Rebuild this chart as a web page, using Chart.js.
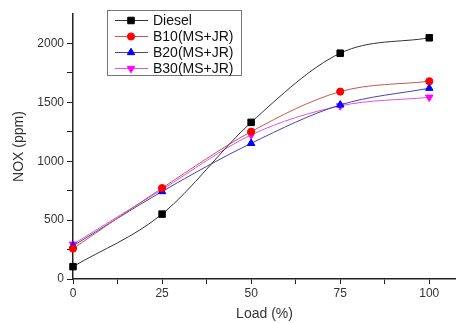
<!DOCTYPE html>
<html><head><meta charset="utf-8">
<script src="https://cdn.jsdelivr.net/npm/chart.js@4/dist/chart.umd.min.js"></script>
<style>html,body{margin:0;padding:0;background:#fff}#wrap{width:456px;height:323px}</style>
</head><body><div id="wrap"><canvas id="c" width="456" height="323"></canvas></div>
<script>
const loads = [0, 25, 50, 75, 100];
const diesel = [105, 551, 1330, 1917, 2048];
const b10 = [258, 772, 1251, 1591, 1679];
const b20 = [281, 743, 1152, 1478, 1620];
const b30 = [295, 760, 1223, 1470, 1543];
const seriesNames = ['Diesel', 'B10(MS+JR)', 'B20(MS+JR)', 'B30(MS+JR)'];
const xTicks = [0, 12.5, 25, 37.5, 50, 62.5, 75, 87.5, 100];
const yTicks = [0, 250, 500, 750, 1000, 1250, 1500, 1750, 2000];
const xTitle = 'Load (%)';
const yTitle = 'NOX (ppm)';

const styles = [
  {line:'#333333', fill:'#000000', shape:'rect', r:4.6, rot:0},
  {line:'#cc5555', fill:'#ff0000', shape:'circle', r:3.6, rot:0},
  {line:'#4444aa', fill:'#0000ff', shape:'triangle', r:4.3, rot:0},
  {line:'#dd55dd', fill:'#ff00ff', shape:'triangle', r:4.3, rot:180}
];
const vals = [diesel, b10, b20, b30];
const datasets = vals.map((v,i)=>({
  label: seriesNames[i],
  data: loads.map((x,j)=>({x:x,y:v[j]})),
  borderColor: styles[i].line,
  backgroundColor: styles[i].fill,
  pointBackgroundColor: styles[i].fill,
  pointBorderColor: styles[i].fill,
  pointStyle: styles[i].shape,
  pointRotation: styles[i].rot,
  pointRadius: styles[i].r,
  borderWidth: 1,
  cubicInterpolationMode: 'monotone',
  fill: false,
  clip: 8
}));

const legendPlugin = {
  id:'boxLegend',
  afterDraw(chart){
    const ctx = chart.ctx;
    ctx.save();
    const bx=107, by=10, bw=134, bh=65;
    ctx.strokeStyle='#777'; ctx.lineWidth=1;
    ctx.strokeRect(bx+0.5,by+0.5,bw,bh);
    ctx.font='14px "Liberation Sans", Arial, sans-serif';
    ctx.textBaseline='middle';
    chart.data.datasets.forEach((ds,i)=>{
      const y = 20 + i*16;
      ctx.strokeStyle = ds.borderColor; ctx.lineWidth=1;
      ctx.beginPath(); ctx.moveTo(115,y+0.5); ctx.lineTo(148,y+0.5); ctx.stroke();
      ctx.fillStyle = ds.pointBackgroundColor; ctx.strokeStyle = ds.pointBorderColor;
      Chart.helpers.drawPoint(ctx,{pointStyle:ds.pointStyle, rotation:ds.pointRotation, radius:ds.pointRadius, borderWidth:1}, 131, y+0.5);
      ctx.fillStyle='#111';
      ctx.fillText(ds.label, 153, y+1);
    });
    ctx.restore();
  }
};

new Chart(document.getElementById('c'), {
  type:'line',
  data:{datasets},
  plugins:[legendPlugin],
  options:{
    responsive:false, animation:false,
    layout:{autoPadding:false, padding:{top:14,right:0,left:0,bottom:0}},
    plugins:{legend:{display:false}, tooltip:{enabled:false}},
    scales:{
      x:{type:'linear', min:0, max:107.5,
        afterBuildTicks:(s)=>{s.ticks = xTicks.map(v=>({value:v}));},
        afterFit:(s)=>{s.height=44; s.paddingRight=0; s.paddingLeft=0;},
        border:{color:'#222', width:1.5},
        grid:{drawOnChartArea:false, drawTicks:true, tickLength:5, color:'#222'},
        ticks:{color:'#333', font:{size:12, family:'"Liberation Sans", Arial, sans-serif'}, maxRotation:0, autoSkip:false, padding:2,
          callback:(v)=> (v%25===0 ? String(v) : '')},
        title:{display:true, text:xTitle, color:'#333', font:{size:14, family:'"Liberation Sans", Arial, sans-serif'}, padding:{top:2,bottom:0}}
      },
      y:{type:'linear', min:0, max:2250,
        afterBuildTicks:(s)=>{s.ticks = yTicks.map(v=>({value:v}));},
        afterFit:(s)=>{s.width=73;},
        border:{color:'#222', width:1.5},
        grid:{drawOnChartArea:false, drawTicks:true, tickLength:6, color:'#222'},
        ticks:{color:'#333', font:{size:12, family:'"Liberation Sans", Arial, sans-serif'}, autoSkip:false, padding:3,
          callback:(v)=> (v%500===0 ? String(v) : '')},
        title:{display:true, text:yTitle, color:'#333', font:{size:14, family:'"Liberation Sans", Arial, sans-serif'}, padding:{top:11,bottom:4}}
      }
    }
  }
});
</script></body></html>
